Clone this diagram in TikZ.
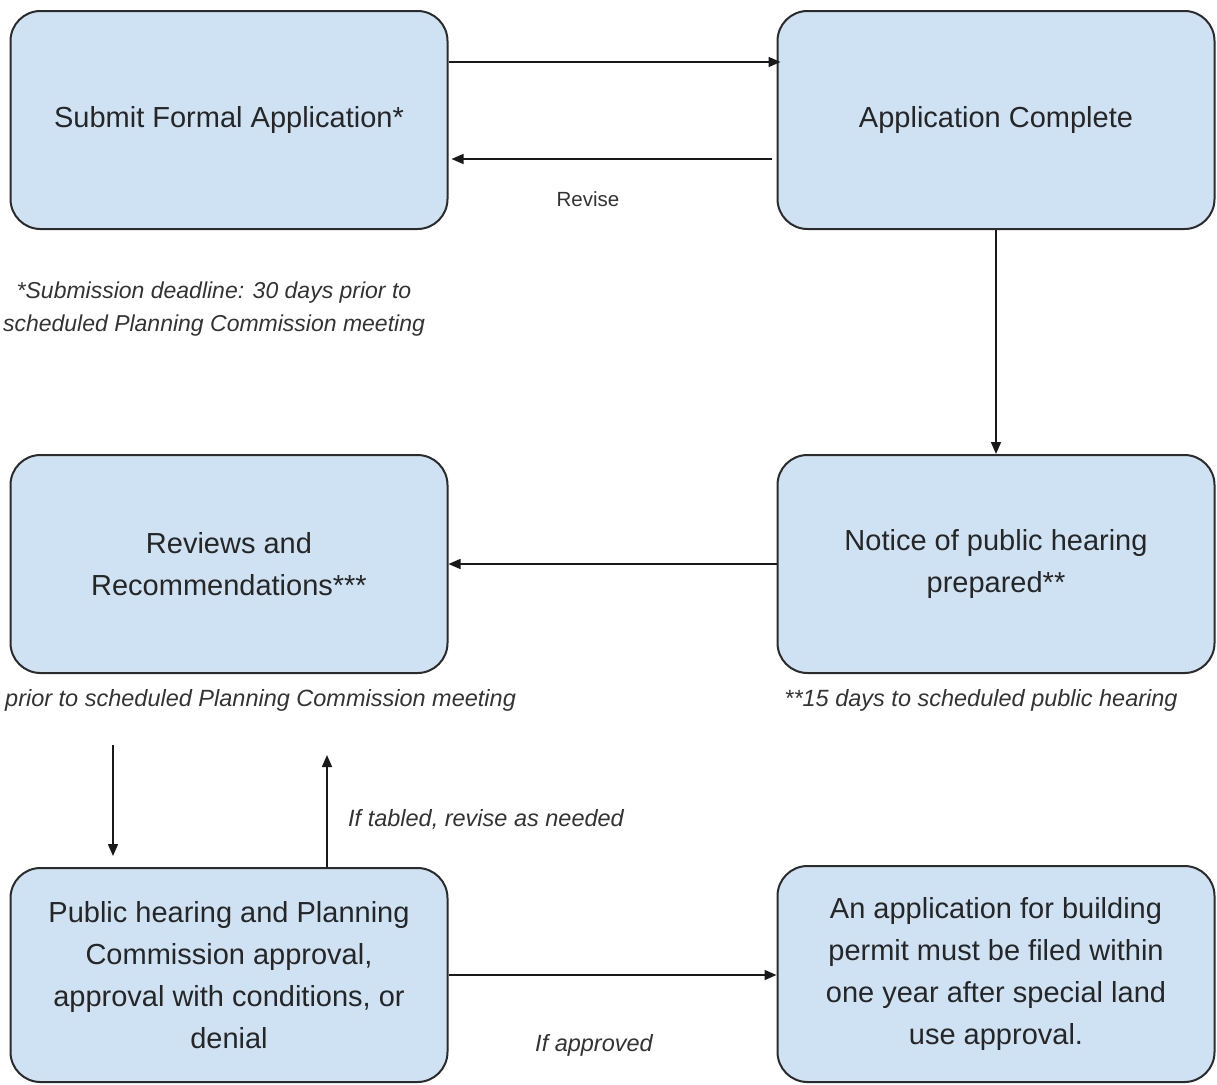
\documentclass[tikz,border=0pt]{standalone}
\usepackage{fontspec}
\setmainfont{Liberation Sans}
\usepackage{tikz}
\usetikzlibrary{arrows.meta, calc}
\definecolor{boxblue}{HTML}{CFE2F3}
\definecolor{boxline}{HTML}{2B2B2B}

\begin{document}
\begin{tikzpicture}[x=1pt, y=-1pt,
  stage/.style={draw=boxline, line width=2pt, fill=boxblue, rounded corners=30pt,
    minimum width=437pt, minimum height=218pt, align=center, text=black!85,
    font=\fontsize{29}{42}\selectfont},
  note/.style={font=\fontsize{23.5}{33}\selectfont\itshape, align=center, text=black!80},
  arr/.style={-{Triangle[length=12pt,width=10pt]}, line width=1.6pt, draw=black!90}]
\useasboundingbox (0,0) rectangle (1217,1084);
% the six stages
\path
(229,120) node[stage] (submit) {Submit Formal Application*};
\path
(996,120) node[stage] (complete) {Application Complete};
\path
(229,564) node[stage] (review) {Reviews and\\Recommendations***};
\path
(996,564) node[stage] (notice) {Notice of public hearing\\prepared**};
\path
(229,975) node[stage, minimum height=214pt] (hearing) {Public hearing and Planning\\Commission approval,\\approval with conditions, or\\denial};
\path
(996,974) node[stage, minimum height=216pt] (permit) {An application for building\\permit must be filed within\\one year after special land\\use approval.};
% notes
\path
(214,309) node[note, font=\fontsize{23}{33}\selectfont\itshape] (deadline) {*Submission deadline: 30 days prior to\\scheduled Planning Commission meeting};
\path
(5,700) node[note, anchor=west, inner sep=0pt] (prior) {prior to scheduled Planning Commission meeting};
\path
(981,700) node[note] (fifteen) {**15 days to scheduled public hearing};
\path
(486,819) node[note] (tabled) {If tabled, revise as needed};
\path
(588,199) node[font=\fontsize{20.5}{24}\selectfont, text=black!80] (revise) {Revise};
\path
(594,1045) node[note] (approved) {If approved};
% connectors
\draw[arr] (submit.east |- 0,62) -- ([xshift=4pt]complete.west |- 0,62);
\draw[arr, shorten <=5pt] (complete.west |- 0,159) -- ([xshift=3pt]submit.east |- 0,159);
\draw[arr] (complete.south) -- (notice.north);
\draw[arr] (notice.west) -- (review.east);
\draw[arr] (113,745) -- ([yshift=11pt]hearing.north -| 113,0);
\draw[arr] (hearing.north -| 327,0) -- (327,755);
\draw[arr] (hearing.east) -- (permit.west |- hearing.east);
\end{tikzpicture}
\end{document}
